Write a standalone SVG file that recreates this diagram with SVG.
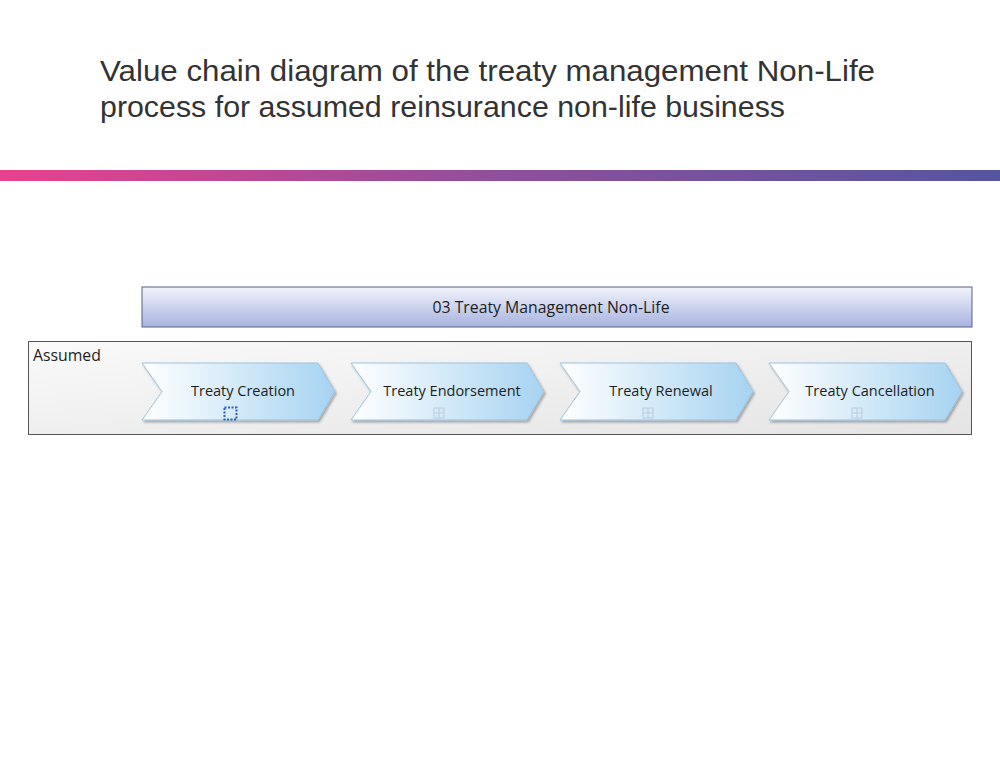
<svg xmlns="http://www.w3.org/2000/svg" width="1000" height="765" viewBox="0 0 1000 765">
<defs>
<linearGradient id="bar" x1="0" y1="0" x2="1" y2="0">
<stop offset="0" stop-color="#e8418e"/>
<stop offset="0.5" stop-color="#8f4f9c"/>
<stop offset="1" stop-color="#5555a0"/>
</linearGradient>
<linearGradient id="hdr" x1="0" y1="0" x2="0" y2="1">
<stop offset="0" stop-color="#f2f4fb"/>
<stop offset="1" stop-color="#a7b2df"/>
</linearGradient>
<linearGradient id="lane" x1="0" y1="0" x2="1" y2="1">
<stop offset="0" stop-color="#fafafa"/>
<stop offset="1" stop-color="#e4e4e4"/>
</linearGradient>
<linearGradient id="chev" x1="0" y1="0" x2="1" y2="0">
<stop offset="0" stop-color="#ffffff"/>
<stop offset="1" stop-color="#a6d3f1"/>
</linearGradient>
<filter id="sh" x="-5%" y="-10%" width="115%" height="130%">
<feDropShadow dx="1.5" dy="2" stdDeviation="1.2" flood-color="#000" flood-opacity="0.3"/>
</filter>
<g id="plus">
<rect x="-5" y="-5" width="10" height="10" fill="none" stroke="#b9cbe0" stroke-width="1"/>
<line x1="0" y1="-5" x2="0" y2="5" stroke="#b9cbe0" stroke-width="1"/>
<line x1="-5" y1="0" x2="5" y2="0" stroke="#b9cbe0" stroke-width="1"/>
</g>
</defs>
<style>
.title{font-family:"Liberation Sans",Arial,sans-serif;font-size:30px;fill:#333}
.lbl{font-family:"Open Sans","Liberation Sans",sans-serif;font-size:14.5px;fill:#1e1e1e}
.big{font-size:15.8px}
.chev{fill:url(#chev);stroke:#9cc2dd;stroke-width:1;filter:url(#sh)}
</style>
<rect width="1000" height="765" fill="#ffffff"/>
<text class="title" x="100" y="81" textLength="775" lengthAdjust="spacingAndGlyphs">Value chain diagram of the treaty management Non-Life</text>
<text class="title" x="100" y="117" textLength="685" lengthAdjust="spacingAndGlyphs">process for assumed reinsurance non-life business</text>
<rect x="0" y="170" width="1000" height="11" fill="url(#bar)"/>
<g id="header">
<rect x="142" y="287" width="830" height="40" fill="url(#hdr)" stroke="#5a6080" stroke-width="1"/>
<text class="lbl big" x="551" y="313" text-anchor="middle">03 Treaty Management Non-Life</text>
</g>
<g id="lane-assumed">
<rect x="28.5" y="341.5" width="943" height="93" fill="url(#lane)" stroke="#555" stroke-width="1"/>
<text class="lbl big" x="33" y="361">Assumed</text>
</g>
<g id="connectors"></g>
<g id="n1">
<polygon class="chev" points="142,363 318,363 335,391.5 318,420 142,420 162,391.5"/>
<text class="lbl" x="243" y="396" text-anchor="middle">Treaty Creation</text>
<rect x="224.5" y="407.5" width="12" height="12" fill="none" stroke="#2a5fae" stroke-width="2" stroke-dasharray="2,1.5"/>
</g>
<g id="n2">
<polygon class="chev" points="351,363 527,363 544,391.5 527,420 351,420 371,391.5"/>
<text class="lbl" x="452" y="396" text-anchor="middle">Treaty Endorsement</text>
<use href="#plus" x="439" y="413"/>
</g>
<g id="n3">
<polygon class="chev" points="560,363 736,363 753,391.5 736,420 560,420 580,391.5"/>
<text class="lbl" x="661" y="396" text-anchor="middle">Treaty Renewal</text>
<use href="#plus" x="648" y="413"/>
</g>
<g id="n4">
<polygon class="chev" points="769,363 945,363 962,391.5 945,420 769,420 789,391.5"/>
<text class="lbl" x="870" y="396" text-anchor="middle">Treaty Cancellation</text>
<use href="#plus" x="857" y="413"/>
</g>
</svg>
